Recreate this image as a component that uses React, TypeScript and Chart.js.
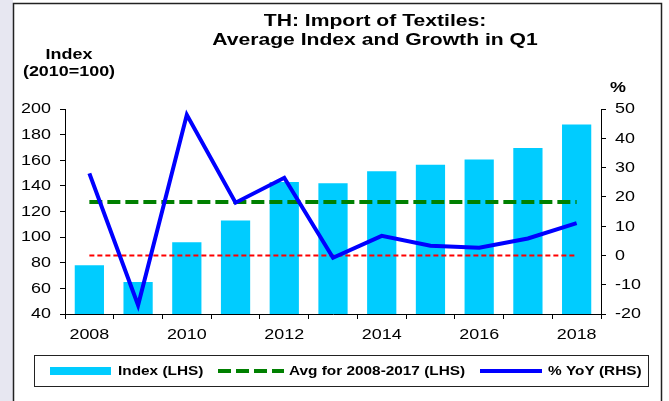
import React, { useEffect, useRef } from 'react';
import { Chart, registerables } from 'chart.js';

Chart.register(...registerables);

// ---------- data ----------
const years = ['2008', '2009', '2010', '2011', '2012', '2013', '2014', '2015', '2016', '2017', '2018'];
const indexValues = [78, 65, 96, 113, 143, 142, 151.5, 156.5, 160.5, 169.5, 188];
const avgValues = [127.5, 127.5, 127.5, 127.5, 127.5, 127.5, 127.5, 127.5, 127.5, 127.5, 127.5];
const yoyValues = [28, -17, 48, 18, 26.5, -0.8, 6.7, 3.3, 2.6, 5.8, 11];
const zeroValues = [0, 0, 0, 0, 0, 0, 0, 0, 0, 0, 0];

const titleLines = ['TH: Import of Textiles:', 'Average Index and Growth in Q1'];
const leftAxisTitle = ['Index', '(2010=100)'];
const rightAxisTitle = '%';
const seriesLabels = ['Index (LHS)', 'Avg for 2008-2017 (LHS)', '% YoY (RHS)'];

const W = 669;
const H = 401;
const SX = 1.28; // horizontal text stretch seen in the reference
const FONT = '"Liberation Sans", Arial, sans-serif';

function stretchText(
  ctx: CanvasRenderingContext2D,
  text: string,
  x: number,
  y: number,
  font: string,
  align: CanvasTextAlign,
  baseline: CanvasTextBaseline = 'alphabetic'
) {
  ctx.save();
  ctx.font = font;
  ctx.textAlign = align;
  ctx.textBaseline = baseline;
  ctx.fillStyle = '#000';
  ctx.translate(x, y);
  ctx.scale(SX, 1);
  ctx.fillText(text, 0, 0);
  ctx.restore();
}

// legend layout: marker start/end and text start for each legend entry
const legendLayout = [
  { ds: 0, m0: 50, m1: 111, tx: 118 },
  { ds: 1, m0: 218, m1: 284, tx: 289 },
  { ds: 2, m0: 480, m1: 542, tx: 548 },
];

const decorPlugin = {
  id: 'decor',
  beforeDraw(chart: any) {
    const ctx: CanvasRenderingContext2D = chart.ctx;
    ctx.save();
    ctx.fillStyle = '#ffffff';
    ctx.fillRect(0, 0, chart.width, chart.height);
    ctx.fillStyle = '#E7E7F1';
    ctx.fillRect(0, 0, 13, chart.height);
    ctx.restore();
  },
  afterDraw(chart: any) {
    const ctx: CanvasRenderingContext2D = chart.ctx;
    const xs = chart.scales.x;
    const ys = chart.scales.y;
    const y1s = chart.scales.y1;
    const tickFont = `14px ${FONT}`;

    ys.ticks.forEach((t: any, i: number) => {
      stretchText(ctx, String(t.label), 51, ys.getPixelForTick(i) + 0.5, tickFont, 'right', 'middle');
    });
    y1s.ticks.forEach((t: any, i: number) => {
      stretchText(ctx, String(t.label), 615, y1s.getPixelForTick(i) + 0.5, tickFont, 'left', 'middle');
    });
    xs.ticks.forEach((t: any, i: number) => {
      const lab = t.label;
      if (lab) stretchText(ctx, String(lab), xs.getPixelForTick(i), 339, tickFont, 'center');
    });

    // title
    const titleFont = `bold 16.5px ${FONT}`;
    stretchText(ctx, titleLines[0], 375, 26, titleFont, 'center');
    stretchText(ctx, titleLines[1], 375, 45, titleFont, 'center');

    // axis titles
    const axFont = `bold 14px ${FONT}`;
    stretchText(ctx, leftAxisTitle[0], 69, 59, axFont, 'center');
    stretchText(ctx, leftAxisTitle[1], 69, 76, axFont, 'center');
    stretchText(ctx, rightAxisTitle, 618, 92, axFont, 'center');

    // outer frame
    ctx.save();
    ctx.strokeStyle = '#222';
    ctx.lineWidth = 1.5;
    ctx.beginPath();
    ctx.moveTo(13.5, H);
    ctx.lineTo(13.5, 3.5);
    ctx.lineTo(661.5, 3.5);
    ctx.lineTo(661.5, H);
    ctx.stroke();
    ctx.restore();

    // legend
    ctx.save();
    ctx.strokeStyle = '#222';
    ctx.lineWidth = 1;
    ctx.strokeRect(34.5, 355.5, 614, 31);
    ctx.restore();
    const cy = 371;
    const legFont = `bold 12px ${FONT}`;
    legendLayout.forEach((it) => {
      const ds = chart.data.datasets[it.ds];
      ctx.save();
      if (ds.type === 'bar') {
        ctx.fillStyle = ds.backgroundColor;
        ctx.fillRect(it.m0, cy - 4, it.m1 - it.m0, 8);
      } else {
        ctx.strokeStyle = ds.borderColor;
        ctx.lineWidth = ds.borderWidth;
        ctx.setLineDash(ds.borderDash || []);
        ctx.beginPath();
        ctx.moveTo(it.m0, cy);
        ctx.lineTo(it.m1, cy);
        ctx.stroke();
      }
      ctx.restore();
      stretchText(ctx, ds.label, it.tx, cy + 0.5, legFont, 'left', 'middle');
    });
  },
};

export default function App() {
  const ref = useRef<HTMLCanvasElement | null>(null);

  useEffect(() => {
    document.body.style.margin = '0';
    if (!ref.current) return;
    const chart = new Chart(ref.current, {
      type: 'bar',
      data: {
        labels: years,
        datasets: [
          {
            type: 'bar',
            label: seriesLabels[0],
            data: indexValues,
            backgroundColor: '#00CCFF',
            yAxisID: 'y',
            order: 3,
            barPercentage: 0.6,
            categoryPercentage: 1,
          },
          {
            type: 'line',
            label: seriesLabels[1],
            data: avgValues,
            borderColor: '#008000',
            borderWidth: 4,
            borderDash: [13, 5],
            pointRadius: 0,
            tension: 0,
            yAxisID: 'y',
            order: 1,
          },
          {
            type: 'line',
            label: seriesLabels[2],
            data: yoyValues,
            borderColor: '#0000FF',
            borderWidth: 4,
            borderJoinStyle: 'miter',
            pointRadius: 0,
            tension: 0,
            yAxisID: 'y1',
            order: 0,
          },
          {
            type: 'line',
            label: '',
            data: zeroValues,
            borderColor: '#FF0000',
            borderWidth: 2,
            borderDash: [5, 3],
            pointRadius: 0,
            tension: 0,
            yAxisID: 'y1',
            order: 2,
          },
        ] as any,
      },
      options: {
        responsive: false,
        animation: false,
        devicePixelRatio: 1,
        layout: { padding: { top: 109, left: 0, right: 0, bottom: 0 } },
        plugins: {
          legend: { display: false },
          title: { display: false },
          tooltip: { enabled: false },
        },
        scales: {
          x: {
            type: 'category',
            offset: true,
            grid: { offset: true, drawOnChartArea: false, drawTicks: true, tickLength: 5, color: '#000' },
            border: { display: true, color: '#000', width: 1 },
            ticks: {
              autoSkip: false,
              maxRotation: 0,
              color: 'rgba(0,0,0,0)',
              callback: (_v: any, i: number) => (i % 2 === 0 ? years[i] : ''),
            },
            afterFit: (s: any) => {
              s.height = 87;
            },
          },
          y: {
            type: 'linear',
            position: 'left',
            min: 40,
            max: 200,
            ticks: { stepSize: 20, color: 'rgba(0,0,0,0)' },
            grid: { drawOnChartArea: false, drawTicks: true, tickLength: 5, color: '#000' },
            border: { display: true, color: '#000', width: 1 },
            afterFit: (s: any) => {
              s.width = 65;
            },
          },
          y1: {
            type: 'linear',
            position: 'right',
            min: -20,
            max: 50,
            ticks: { stepSize: 10, color: 'rgba(0,0,0,0)' },
            grid: { drawOnChartArea: false, drawTicks: true, tickLength: 5, color: '#000' },
            border: { display: true, color: '#000', width: 1 },
            afterFit: (s: any) => {
              s.width = 68;
            },
          },
        },
      } as any,
      plugins: [decorPlugin],
    });
    return () => chart.destroy();
  }, []);

  return (
    <div style={{ width: W, height: H }}>
      <canvas ref={ref} width={W} height={H} style={{ display: 'block' }} />
    </div>
  );
}
